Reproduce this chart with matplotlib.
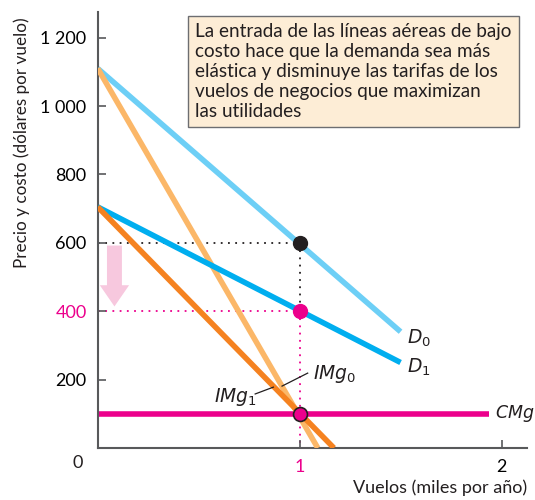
import numpy as np
import matplotlib
matplotlib.use("Agg")
import matplotlib.pyplot as plt
from matplotlib.patches import FancyArrow

# data (thousands of flights, dollars)
d0_x = [0.0, 1.5];   d0_y = [1110, 340]
d1_x = [0.0, 1.5];   d1_y = [705, 250]
img0_x = [0.0, 1.09]; img0_y = [1110, 0]
img1_x = [0.0, 1.17]; img1_y = [705, 0]
cmg_x = [0.0, 1.94];  cmg_y = [100, 100]
q_star = 1.0
p_old, p_new, mc = 600, 400, 100
yticks = [200, 400, 600, 800, 1000, 1200]
ytick_labels = ["200", "400", "600", "800", "1 000", "1 200"]

TXT = "#231f20"
AX = "#58595b"
C_D0 = "#6dcff6"
C_D1 = "#00aeef"
C_MR0 = "#fbb768"
C_MR1 = "#f58220"
MAG = "#ec008c"

plt.rcParams.update({"font.family": ["Lato", "DejaVu Sans"], "font.size": 12.5,
                     "text.color": TXT})

fig = plt.figure(figsize=(5.35, 5.0), dpi=100)
ax = fig.add_axes([0.1826, 0.104, 0.802, 0.872])
ax.set_xlim(0, 2.125); ax.set_ylim(0, 1275)

ax.plot(d0_x, d0_y, color=C_D0, lw=4, solid_capstyle="butt", zorder=3)
ax.plot(img0_x, img0_y, color=C_MR0, lw=4, solid_capstyle="butt", zorder=3)
ax.plot(d1_x, d1_y, color=C_D1, lw=4, solid_capstyle="butt", zorder=3)
ax.plot(img1_x, img1_y, color=C_MR1, lw=4, solid_capstyle="butt", zorder=4)
ax.plot(cmg_x, cmg_y, color=MAG, lw=4, solid_capstyle="butt", zorder=2)

# dotted guides
ax.plot([0, q_star], [p_old, p_old], color=TXT, lw=1.3, ls=(0, (1, 3)), zorder=1)
ax.plot([q_star, q_star], [p_old, p_new], color=TXT, lw=1.3, ls=(0, (1, 3)), zorder=1)
ax.plot([0, q_star], [p_new, p_new], color=MAG, lw=1.3, ls=(0, (1, 3)), zorder=1)
ax.plot([q_star, q_star], [p_new, 0], color=MAG, lw=1.3, ls=(0, (1, 3)), zorder=1)

# points
ax.plot(q_star, p_old, "o", ms=10, color=TXT, zorder=6)
ax.plot(q_star, p_new, "o", ms=10, color=MAG, zorder=6)
ax.plot(q_star, mc, "o", ms=10, color=MAG, mec=TXT, mew=1.2, zorder=6)

# pink arrow
ax.add_patch(FancyArrow(0.083, p_old - 8, 0, -(p_old - p_new) + 22, width=0.074,
                        head_width=0.145, head_length=62, length_includes_head=True,
                        color="#f7c8de", lw=0, zorder=2))

# labels
ax.text(1.53, 322, r"$D_0$", fontsize=13.5, va="center", ha="left", color=TXT)
ax.text(1.53, 237, r"$D_1$", fontsize=13.5, va="center", ha="left", color=TXT)
ax.text(1.065, 215, r"$IMg_0$", fontsize=13.5, va="center", ha="left", color=TXT)
ax.text(0.79, 150, r"$IMg_1$", fontsize=13.5, va="center", ha="right", color=TXT)
ax.text(1.97, 100, r"$CMg$", fontsize=12.5, va="center", ha="left", color=TXT)
ax.plot([1.04, 0.913], [219, 181], color=TXT, lw=0.9, zorder=5)
ax.plot([0.78, 0.87], [158, 178], color=TXT, lw=0.9, zorder=5)

# annotation box
fig.text(0.365, 0.953, "La entrada de las líneas aéreas de bajo\n"
         "costo hace que la demanda sea más\n"
         "elástica y disminuye las tarifas de los\n"
         "vuelos de negocios que maximizan\n"
         "las utilidades", ha="left", va="top", fontsize=13.6, linespacing=1.2,
         bbox=dict(boxstyle="square,pad=0.4", fc="#fdedd6", ec="#6d6e71", lw=1.0))

# axes styling
for s in ["top", "right"]:
    ax.spines[s].set_visible(False)
for s in ["left", "bottom"]:
    ax.spines[s].set_color(AX); ax.spines[s].set_linewidth(1.5)
ax.set_yticks(yticks)
ax.set_yticklabels(ytick_labels)
ax.get_yticklabels()[1].set_color(MAG)
ax.set_xticks([1, 2])
ax.set_xticklabels(["1", "2"])
ax.get_xticklabels()[0].set_color(MAG)
ax.tick_params(direction="in", length=6, width=1.2, color=AX, labelsize=13, pad=8)
ax.text(-0.1, -45, "0", fontsize=13, ha="center", va="center", color=TXT)
fig.text(22 / 535, (500 - 143) / 500, "Precio y costo (dólares por vuelo)",
         fontsize=12.3, rotation=90, ha="center", va="center")
ax.text(2.125, -117, "Vuelos (miles por año)", fontsize=13, ha="right", va="center")

fig.savefig("out.png", dpi=100)
